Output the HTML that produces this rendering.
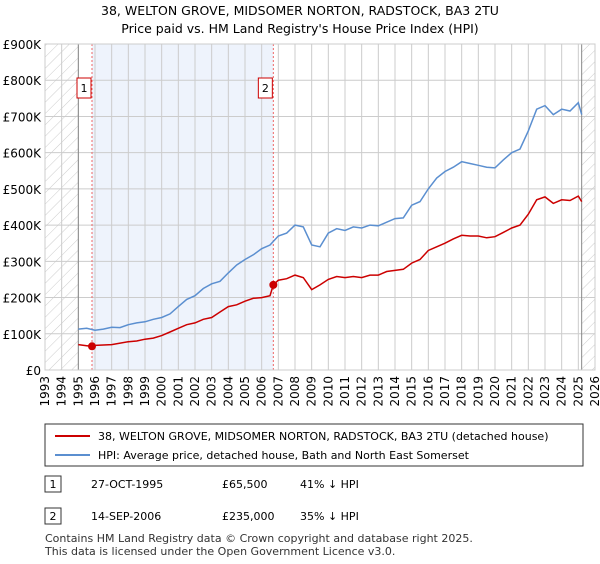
<!DOCTYPE html>
<html><head><meta charset="utf-8"><style>
body{margin:0;background:#fff;font-family:"DejaVu Sans","Liberation Sans",sans-serif;}
svg text{font-family:"DejaVu Sans","Liberation Sans",sans-serif;}
</style></head><body>
<svg width="600" height="560" xmlns="http://www.w3.org/2000/svg" id="chart">
<defs><pattern id="hatch" width="8" height="8" patternUnits="userSpaceOnUse" patternTransform="rotate(45)"><line x1="0" y1="0" x2="0" y2="8" stroke="#ccc" stroke-width="1"/></pattern></defs>
<text x="300" y="15" text-anchor="middle" font-size="12.5">38, WELTON GROVE, MIDSOMER NORTON, RADSTOCK, BA3 2TU</text>
<text x="300" y="33" text-anchor="middle" font-size="12.5">Price paid vs. HM Land Registry's House Price Index (HPI)</text>
<g id="plot"></g>
<g>
<rect x="45" y="424" width="538" height="42" fill="#fff" stroke="#333"/>
<line x1="55" y1="436" x2="90" y2="436" stroke="#cc0000" stroke-width="2"/>
<text x="98" y="440" font-size="11">38, WELTON GROVE, MIDSOMER NORTON, RADSTOCK, BA3 2TU (detached house)</text>
<line x1="55" y1="455" x2="90" y2="455" stroke="#5b8fd0" stroke-width="2"/>
<text x="98" y="459" font-size="11">HPI: Average price, detached house, Bath and North East Somerset</text>
</g>
<g font-size="11">
<rect x="45" y="476" width="16" height="16" fill="#fff" stroke="#333"/><text x="53" y="488" text-anchor="middle">1</text>
<text x="91" y="488">27-OCT-1995</text><text x="222" y="488">£65,500</text><text x="300" y="488">41% ↓ HPI</text>
<rect x="45" y="508" width="16" height="16" fill="#fff" stroke="#333"/><text x="53" y="520" text-anchor="middle">2</text>
<text x="91" y="520">14-SEP-2006</text><text x="222" y="520">£235,000</text><text x="300" y="520">35% ↓ HPI</text>
</g>
<text x="45" y="542" font-size="11" fill="#333">Contains HM Land Registry data © Crown copyright and database right 2025.</text>
<text x="45" y="555" font-size="11" fill="#333">This data is licensed under the Open Government Licence v3.0.</text>
</svg>
<script>
const hpiYears=[1995,1995.5,1996,1996.5,1997,1997.5,1998,1998.5,1999,1999.5,2000,2000.5,2001,2001.5,2002,2002.5,2003,2003.5,2004,2004.5,2005,2005.5,2006,2006.5,2007,2007.5,2008,2008.5,2009,2009.5,2010,2010.5,2011,2011.5,2012,2012.5,2013,2013.5,2014,2014.5,2015,2015.5,2016,2016.5,2017,2017.5,2018,2018.5,2019,2019.5,2020,2020.5,2021,2021.5,2022,2022.5,2023,2023.5,2024,2024.5,2025,2025.2];
const hpiValues=[113,115,110,113,118,117,125,130,133,140,145,155,175,195,205,225,238,245,268,290,305,318,335,345,370,378,400,395,345,340,378,390,385,395,392,400,398,408,418,420,455,465,500,530,548,560,575,570,565,560,558,580,600,610,660,720,730,705,720,715,738,705];
const priceYears=[1995,1995.5,1995.82,1996,1997,1998,1998.5,1999,1999.5,2000,2000.5,2001,2001.5,2002,2002.5,2003,2003.5,2004,2004.5,2005,2005.5,2006,2006.5,2006.7,2007,2007.5,2008,2008.5,2009,2009.5,2010,2010.5,2011,2011.5,2012,2012.5,2013,2013.5,2014,2014.5,2015,2015.5,2016,2016.5,2017,2017.5,2018,2018.5,2019,2019.5,2020,2020.5,2021,2021.5,2022,2022.5,2023,2023.5,2024,2024.5,2025,2025.2];
const priceValues=[70,67,65.5,68,70,78,80,85,88,95,105,115,125,130,140,145,160,175,180,190,198,200,205,235,248,252,262,255,222,235,250,258,255,258,255,262,262,272,275,278,295,305,330,340,350,362,372,370,370,365,368,380,392,400,430,470,478,460,470,468,480,465];
const saleYears=[1995.82,2006.7];
const saleValues=[65.5,235];
const saleLabels=["1","2"];
const yTicks=[0,100,200,300,400,500,600,700,800,900];
const yTickLabels=["£0","£100K","£200K","£300K","£400K","£500K","£600K","£700K","£800K","£900K"];
const xTicks=[1993,1994,1995,1996,1997,1998,1999,2000,2001,2002,2003,2004,2005,2006,2007,2008,2009,2010,2011,2012,2013,2014,2015,2016,2017,2018,2019,2020,2021,2022,2023,2024,2025,2026];

const X0=45,X1=595,Y0=370,Y1=44;
const x=v=>X0+(v-1993)/33*(X1-X0);
const y=v=>Y0-v/900*(Y0-Y1);
const NS="http://www.w3.org/2000/svg";
const g=document.getElementById('plot');
function mk(t,a){const e=document.createElementNS(NS,t);for(const k in a)e.setAttribute(k,a[k]);g.appendChild(e);return e;}
let e;
e=mk('rect',{x:x(1995),y:Y1,width:x(2025.2)-x(1995),height:Y0-Y1,fill:'#fff'});
e=mk('rect',{x:x(saleYears[0]),y:Y1,width:x(saleYears[1])-x(saleYears[0]),height:Y0-Y1,fill:'#eef3fc'});


e=mk('rect',{x:X0,y:Y1,width:x(1995)-X0,height:Y0-Y1,fill:'url(#hatch)'});


e=mk('rect',{x:x(2025.2),y:Y1,width:X1-x(2025.2),height:Y0-Y1,fill:'url(#hatch)'});


yTicks.forEach((t,i)=>{
 e=mk('line',{x1:X0,x2:X1,y1:y(t),y2:y(t),stroke:'#ccc'});
 
 
 e=mk('text',{x:X0-4,y:y(t)+5,'text-anchor':'end','font-size':12});
 e.textContent=yTickLabels[i];
 
 
});
xTicks.forEach(t=>{
 e=mk('line',{x1:x(t),x2:x(t),y1:Y1,y2:Y0,stroke:'#ccc'});
 
 
 e=mk('text',{x:x(t)+4,y:Y0+6,'text-anchor':'end','font-size':12,transform:`rotate(-90 ${x(t)+4} ${Y0+6})`});
 e.textContent=t;
 
 
});
e=mk('line',{x1:x(1995),x2:x(1995),y1:Y1,y2:Y0,stroke:'#888'});
e=mk('line',{x1:x(2025.2),x2:x(2025.2),y1:Y1,y2:Y0,stroke:'#888'});
saleYears.forEach((s,i)=>{
 e=mk('line',{x1:x(s),x2:x(s),y1:Y1,y2:Y0,stroke:'#e66','stroke-dasharray':'2,2'});
 
 
});
function pts(xs,vs){return xs.map((a,i)=>x(a).toFixed(1)+','+y(vs[i]).toFixed(1)).join(' ');}
e=mk('polyline',{points:pts(hpiYears,hpiValues),fill:'none',stroke:'#5b8fd0','stroke-width':1.5});


e=mk('polyline',{points:pts(priceYears,priceValues),fill:'none',stroke:'#cc0000','stroke-width':1.5});


saleYears.forEach((s,i)=>{
 e=mk('circle',{cx:x(s),cy:y(saleValues[i]),r:4,fill:'#cc0000'});
 
 
 e=mk('rect',{x:x(s)-15,y:78,width:14,height:20,fill:'#fff',stroke:'#cc0000'});
 
 
 e=mk('text',{x:x(s)-8,y:92,'text-anchor':'middle','font-size':11});
 e.textContent=saleLabels[i];
 
 
});
e=mk('rect',{x:X0,y:Y1,width:X1-X0,height:Y0-Y1,fill:'none',stroke:'#ccc'});
</script>
</body></html>
